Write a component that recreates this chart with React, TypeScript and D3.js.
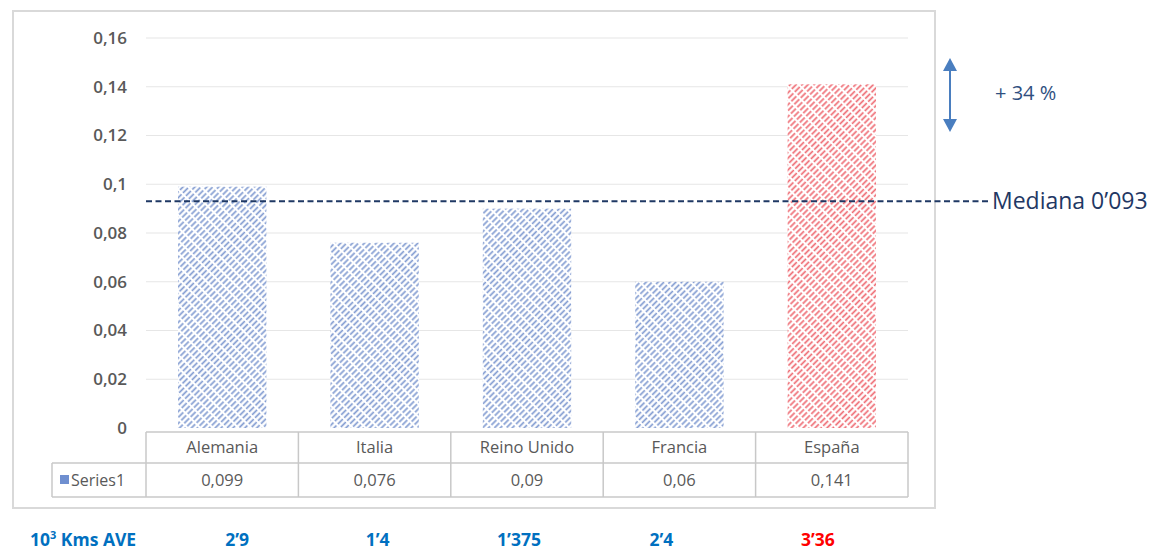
import React from "react";
import * as d3 from "d3";

const categories = ["Alemania", "Italia", "Reino Unido", "Francia", "España"];
const values = [0.099, 0.076, 0.09, 0.06, 0.141];
const valueLabels = ["0,099", "0,076", "0,09", "0,06", "0,141"];
const yTicks = [0, 0.02, 0.04, 0.06, 0.08, 0.1, 0.12, 0.14, 0.16];
const kmsLabels = ["2’9", "1’4", "1’375", "2’4", "3’36"];
const kmsOffsets = [15, 3, -8, -18, -14];
const median = 0.093;
const seriesName = "Series1";

const fmt = (v: number) => (v === 0 ? "0" : String(+v.toFixed(2)).replace(".", ","));

export default function App() {
  const W = 1155, H = 553;
  const plotL = 146, plotR = 908;
  const y = d3.scaleLinear().domain([0, 0.16]).range([428, 38]);
  const x = d3.scaleBand<string>().domain(categories).range([plotL, plotR]).paddingInner(0.42).paddingOuter(0.21);
  const col = d3.scaleBand<string>().domain(categories).range([plotL, plotR]);
  const font = "'Open Sans', 'Noto Sans', sans-serif";
  const grey = "#595959";
  const row1T = 432, row1B = 463, row2B = 497;
  const medY = y(median);
  return (
    <svg width={W} height={H} style={{ position: "absolute", left: 0, top: 0, background: "#fff" }}>
      <defs>
        <pattern id="hb" patternUnits="userSpaceOnUse" width="4.2" height="9" patternTransform="rotate(45)">
          <rect width="4.2" height="9" fill="#fff" />
          <line x1="1.2" y1="0" x2="1.2" y2="7" stroke="#849dd2" strokeWidth="1.7" />
        </pattern>
        <pattern id="hr" patternUnits="userSpaceOnUse" width="4.2" height="9" patternTransform="rotate(45)">
          <rect width="4.2" height="9" fill="#fff" />
          <line x1="1.2" y1="0" x2="1.2" y2="7" stroke="#ef6e76" strokeWidth="1.7" />
        </pattern>
      </defs>
      <rect x={13} y={11} width={922} height={497} fill="#fff" stroke="#d9d9d9" strokeWidth={2} />
      {yTicks.map((t) => (
        <g key={t}>
          {t > 0 && <line x1={plotL} x2={plotR} y1={y(t)} y2={y(t)} stroke="#e6e6e6" strokeWidth={1.2} />}
          <text x={127} y={y(t)} dy="0.35em" textAnchor="end" fontFamily={font} fontSize={17} fill={grey} fontWeight={600}>
            {fmt(t)}
          </text>
        </g>
      ))}
      {categories.map((c, i) => (
        <rect key={c} x={x(c)} y={y(values[i])} width={x.bandwidth()} height={y(0) - y(values[i])}
          fill={c === "España" ? "url(#hr)" : "url(#hb)"} />
      ))}
      {/* data table */}
      <g stroke="#c8c8c8" strokeWidth={1.5} fill="none">
        <line x1={plotL} x2={plotR} y1={row1T} y2={row1T} />
        <line x1={52} x2={plotR} y1={row1B} y2={row1B} />
        <line x1={52} x2={plotR} y1={row2B} y2={row2B} />
        <line x1={52} x2={52} y1={row1B} y2={row2B} />
        {categories.map((c) => (
          <line key={c} x1={col(c)} x2={col(c)} y1={row1T} y2={row2B} />
        ))}
        <line x1={plotR} x2={plotR} y1={row1T} y2={row2B} />
      </g>
      {categories.map((c, i) => (
        <g key={c} fontFamily={font} fontSize={16.5} fill={grey} textAnchor="middle">
          <text x={col(c)! + col.bandwidth() / 2} y={(row1T + row1B) / 2} dy="0.35em">{c}</text>
          <text x={col(c)! + col.bandwidth() / 2} y={(row1B + row2B) / 2} dy="0.35em">{valueLabels[i]}</text>
        </g>
      ))}
      <rect x={60} y={475} width={9} height={9} fill="#6f8fd0" />
      <text x={71} y={(row1B + row2B) / 2} dy="0.35em" fontFamily={font} fontSize={16} fill={grey}>{seriesName}</text>
      {/* median */}
      <line x1={plotL} x2={990} y1={medY} y2={medY} stroke="#1f3864" strokeWidth={2} strokeDasharray="6,3.5" />
      <text x={992} y={medY} dy="0.35em" fontFamily={font} fontSize={23} fill="#1f3864">Mediana 0’093</text>
      {/* arrow */}
      <g fill="#4a7ebf" stroke="#4a7ebf">
        <line x1={950} x2={950} y1={66} y2={124} strokeWidth={2} />
        <path d="M943,71 L950,58 L957,71 Z" stroke="none" />
        <path d="M943,119 L950,132 L957,119 Z" stroke="none" />
      </g>
      <text x={995} y={93} dy="0.35em" fontFamily={font} fontSize={20} fill="#2f4f7f">+ 34 %</text>
      {/* kms row */}
      <text x={30} y={546} fontFamily={font} fontSize={17.5} fontWeight={700} fill="#0070c0">
        10<tspan dy={-7} fontSize={11}>3</tspan><tspan dy={7}> Kms AVE</tspan>
      </text>
      {categories.map((c, i) => (
        <text key={c} x={col(c)! + col.bandwidth() / 2 + kmsOffsets[i]} y={546} textAnchor="middle" fontFamily={font}
          fontSize={17.5} fontWeight={700} fill={c === "España" ? "#ff0000" : "#0070c0"}>
          {kmsLabels[i]}
        </text>
      ))}
    </svg>
  );
}
